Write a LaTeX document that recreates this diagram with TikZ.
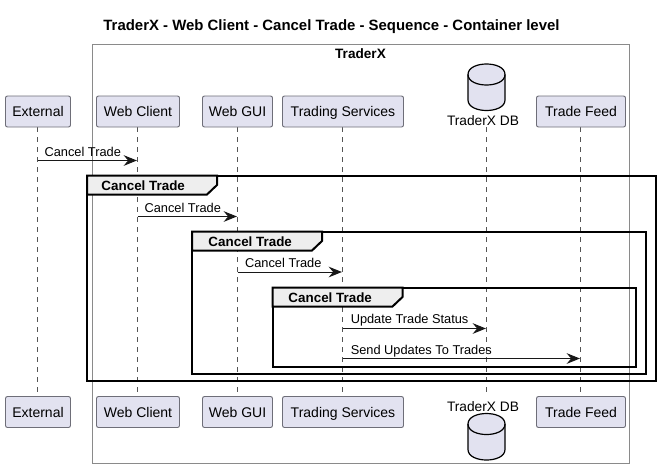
\documentclass[tikz,border=0pt]{standalone}
\usepackage{fontspec}
\setmainfont{Liberation Sans}
\usetikzlibrary{arrows.meta}
\definecolor{partfill}{HTML}{E2E2F0}
\definecolor{partline}{HTML}{6E6E78}
\definecolor{lifecol}{HTML}{555555}
\definecolor{boxcol}{HTML}{8A8A8A}
\definecolor{tabfill}{HTML}{EEEEEE}
\definecolor{inkcol}{HTML}{181818}
\newcommand{\partfont}{\fontsize{10.5pt}{12pt}\selectfont}
\newcommand{\msgfont}{\fontsize{9.6pt}{11pt}\selectfont}
\newcommand{\tabfont}{\fontsize{10.05pt}{12pt}\selectfont\bfseries}
\tikzset{
  participant/.style={draw=partline,fill=partfill,rounded corners=1.5pt,line width=.7pt,inner sep=0pt,text=black,font=\partfont,text height=9pt,text depth=.8pt,anchor=center},
  lifeline/.style={draw=lifecol,line width=.6pt,dash pattern=on 3.75pt off 3.75pt},
  message/.style={draw=inkcol,line width=.75pt,shorten >=.4pt,-{Stealth[length=10pt,width=8pt,inset=3.4pt,fill=inkcol]}},
  msglabel/.style={font=\msgfont,inner sep=0pt,text=black,anchor=base},
  frameline/.style={draw=black,line width=1.5pt},
  tabshape/.style={draw=black,line width=1.5pt,fill=tabfill},
  tablabel/.style={font=\tabfont,inner sep=0pt,text=black,anchor=base},
  dbshape/.style={draw=black,line width=.9pt,fill=partfill},
}
\newcommand{\groupframe}[5]{%
  % left, top, right, bottom, tab right
  \draw[frameline] (#1,#2) rectangle (#3,#4);
  \draw[tabshape] (#1,#2) -- (#5,#2) -- (#5,#2+9.5) -- (#5-10,#2+19) -- (#1,#2+19) -- cycle;
}
\newcommand{\dbcyl}[1]{%
  \draw[dbshape] (468,#1+10.5) .. controls (468,#1-3.5) and (505,#1-3.5) .. (505,#1+10.5)
    -- (505,#1+36) .. controls (505,#1+50) and (468,#1+50) .. (468,#1+36) -- cycle;
  \draw[dbshape,fill=none] (468,#1+10.5) .. controls (468,#1+24.5) and (505,#1+24.5) .. (505,#1+10.5);
}
\begin{document}
\begin{tikzpicture}[x=.75pt,y=-.75pt]
\useasboundingbox (0,0) rectangle (660,475);
\fill[white] (0,0) rectangle (660,475);

\node[font=\fontsize{11.2pt}{13pt}\selectfont\bfseries,inner sep=0pt,anchor=base] (title) at (331.5,30) {TraderX - Web Client - Cancel Trade - Sequence - Container level};

% container box
\draw[boxcol,line width=.75pt] (92.5,44.5) rectangle (629.5,463);
\node[font=\fontsize{10.2pt}{12pt}\selectfont\bfseries,inner sep=0pt,anchor=base] (box) at (360.5,58) {TraderX};

% lifeline end points
\coordinate (ext) at (37.5,127);   \coordinate (extb) at (37.5,396.5);
\coordinate (wc) at (137.5,127);   \coordinate (wcb) at (137.5,396.5);
\coordinate (gui) at (237.5,127);  \coordinate (guib) at (237.5,396.5);
\coordinate (ts) at (342.5,127);   \coordinate (tsb) at (342.5,396.5);
\coordinate (db) at (486.5,127);   \coordinate (dbb) at (486.5,396.5);
\coordinate (tf) at (580.5,127);   \coordinate (tfb) at (580.5,396.5);
\foreach \a/\b in {ext/extb,wc/wcb,gui/guib,ts/tsb,db/dbb,tf/tfb}
  \draw[lifeline] (\a) -- (\b);

% group frames
\groupframe{87}{175.5}{655.5}{380.5}{217}
\groupframe{192}{231.5}{645.5}{373.5}{322}
\groupframe{272.5}{287.5}{635.5}{367}{402.5}
\node[tablabel] (g1) at (143.2,190) {Cancel Trade};
\node[tablabel] (g2) at (250.2,246) {Cancel Trade};
\node[tablabel] (g3) at (330.2,302.2) {Cancel Trade};

% messages
\draw[message] (ext |- 0,160.5) -- (wc |- 0,160.5);
\node[msglabel] (m1) at (82.8,156) {Cancel Trade};
\draw[message] (wc |- 0,216.5) -- (gui |- 0,216.5);
\node[msglabel] (m2) at (182.8,212.2) {Cancel Trade};
\draw[message] (gui |- 0,272) -- (ts |- 0,272);
\node[msglabel] (m3) at (283.3,267.8) {Cancel Trade};
\draw[message] (ts |- 0,328.5) -- (db |- 0,328.5);
\node[msglabel,anchor=base west] (m4) at (350.5,323.3) {Update Trade Status};
\draw[message] (ts |- 0,358.5) -- (tf |- 0,358.5);
\node[msglabel,anchor=base west] (m5) at (350.5,354.3) {Send Updates To Trades};

% participants, top
\node[participant,minimum width=65pt*.75,minimum height=31pt*.75] (pe) at (38,111.5) {External};
\node[participant,minimum width=83pt*.75,minimum height=31pt*.75] (pw) at (138,111.5) {Web Client};
\node[participant,minimum width=70pt*.75,minimum height=31pt*.75] (pg) at (237.5,111.5) {Web GUI};
\node[participant,minimum width=121pt*.75,minimum height=31pt*.75] (pt) at (343,111.5) {Trading Services};
\node[participant,minimum width=89pt*.75,minimum height=31pt*.75] (pf) at (581,111.5) {Trade Feed};
\dbcyl{64}
\node[font=\fontsize{10.3pt}{12pt}\selectfont,inner sep=0pt,anchor=base] (pd) at (483,125) {TraderX DB};

% participants, bottom
\node[participant,minimum width=65pt*.75,minimum height=31pt*.75] (qe) at (38,412) {External};
\node[participant,minimum width=83pt*.75,minimum height=31pt*.75] (qw) at (138,412) {Web Client};
\node[participant,minimum width=70pt*.75,minimum height=31pt*.75] (qg) at (237.5,412) {Web GUI};
\node[participant,minimum width=121pt*.75,minimum height=31pt*.75] (qt) at (343,412) {Trading Services};
\node[participant,minimum width=89pt*.75,minimum height=31pt*.75] (qf) at (581,412) {Trade Feed};
\dbcyl{413.5}
\node[font=\fontsize{10.3pt}{12pt}\selectfont,inner sep=0pt,anchor=base] (qd) at (483,411) {TraderX DB};
\end{tikzpicture}
\end{document}
